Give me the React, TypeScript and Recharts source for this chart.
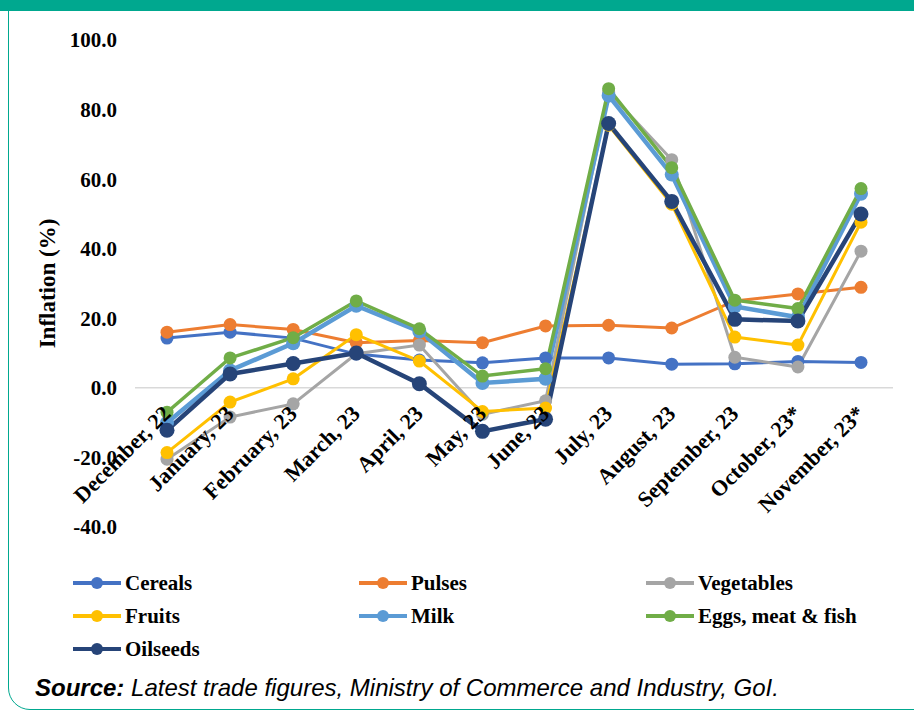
import React from "react";
import {
  LineChart,
  Line,
  XAxis,
  YAxis,
  ReferenceLine,
} from "recharts";

const months = [
  "December, 22",
  "January, 23",
  "February, 23",
  "March, 23",
  "April, 23",
  "May, 23",
  "June, 23",
  "July, 23",
  "August, 23",
  "September, 23",
  "October, 23*",
  "November, 23*",
];

const cereals = [14.3, 16.0, 14.3, 9.7, 8.0, 7.2, 8.6, 8.6, 6.8, 6.9, 7.6, 7.3];
const pulses = [16.0, 18.2, 16.8, 13.0, 13.6, 13.0, 17.8, 18.0, 17.2, 25.0, 27.0, 28.9];
const vegetables = [-20.5, -8.4, -4.6, 9.8, 12.3, -7.6, -3.7, 85.0, 65.6, 8.8, 6.0, 39.3];
const fruits = [-18.6, -4.1, 2.6, 15.3, 7.7, -6.8, -5.8, 75.5, 52.8, 14.6, 12.3, 47.6];
const milk = [-10.0, 5.0, 12.8, 23.6, 16.2, 1.4, 2.6, 84.0, 61.3, 23.4, 20.3, 55.8];
const eggs = [-7.0, 8.6, 14.4, 25.0, 17.0, 3.4, 5.5, 86.0, 63.3, 25.2, 22.8, 57.3];
const oilseeds = [-12.2, 4.0, 7.0, 10.0, 1.2, -12.5, -9.0, 76.0, 53.6, 19.7, 19.2, 50.0];

const yTicks = [-40, -20, 0, 20, 40, 60, 80, 100];

const series = [
  { key: "cereals", name: "Cereals", values: cereals, color: "#4472C4", width: 3, r: 6.5 },
  { key: "pulses", name: "Pulses", values: pulses, color: "#ED7D31", width: 3, r: 6.5 },
  { key: "vegetables", name: "Vegetables", values: vegetables, color: "#A5A5A5", width: 3, r: 6.5 },
  { key: "fruits", name: "Fruits", values: fruits, color: "#FFC000", width: 3, r: 6.5 },
  { key: "milk", name: "Milk", values: milk, color: "#5B9BD5", width: 4.5, r: 7 },
  { key: "eggs", name: "Eggs, meat & fish", values: eggs, color: "#70AD47", width: 3.5, r: 6.5 },
  { key: "oilseeds", name: "Oilseeds", values: oilseeds, color: "#264478", width: 4.5, r: 7.5 },
];

const data = months.map((m, i) => {
  const row: Record<string, string | number> = { month: m };
  series.forEach((s) => {
    row[s.key] = s.values[i];
  });
  return row;
});

const W = 914;
const H = 714;
const TOP = 40;
const BOTTOM = 527;
const X_AXIS_H = 30;
const Y_MIN = -40;
const Y_MAX = 100;
const zeroY = TOP + ((Y_MAX - 0) / (Y_MAX - Y_MIN)) * (BOTTOM - TOP);

const serif = "'Liberation Serif', 'Times New Roman', serif";
const teal = "#00A88F";

// month labels hang off the zero line, not the bottom of the plot
function MonthTick(props: any) {
  const { x, payload } = props;
  const ax = x + 5;
  const ay = zeroY + 27;
  return (
    <text
      x={ax}
      y={ay}
      textAnchor="end"
      transform={`rotate(-45, ${ax}, ${ay})`}
      fontFamily={serif}
      fontWeight="bold"
      fontSize={22}
      fill="#000"
    >
      {payload.value}
    </text>
  );
}

function LegendBox() {
  const cols = [72, 358, 645];
  return (
    <div style={{ position: "absolute", left: 0, top: 0 }}>
      {series.map((s, i) => {
        const left = cols[i % 3];
        const top = 583 + Math.floor(i / 3) * 33;
        return (
          <div
            key={s.key}
            style={{
              position: "absolute",
              left,
              top: top - 14,
              height: 28,
              display: "flex",
              alignItems: "center",
              whiteSpace: "nowrap",
            }}
          >
            <svg width={50} height={28}>
              <line x1={1} y1={14} x2={49} y2={14} stroke={s.color} strokeWidth={4} />
              <circle cx={25} cy={14} r={6} fill={s.color} />
            </svg>
            <span
              style={{
                fontFamily: serif,
                fontWeight: "bold",
                fontSize: 21,
                marginLeft: 3,
                color: "#000",
              }}
            >
              {s.name}
            </span>
          </div>
        );
      })}
    </div>
  );
}

export default function App() {
  return (
    <div
      style={{
        position: "absolute",
        left: 0,
        top: 0,
        width: W,
        height: H,
        overflow: "hidden",
        background: "#fff",
      }}
    >
      <div
        style={{
          position: "absolute",
          left: 8,
          top: -30,
          width: W + 20,
          height: H + 30 - 4,
          border: `1.5px solid ${teal}`,
          borderRadius: 22,
          boxSizing: "border-box",
        }}
      />
      <div
        style={{
          position: "absolute",
          left: 0,
          top: 0,
          width: W,
          height: 11,
          background: teal,
        }}
      />
      <div style={{ position: "absolute", left: 0, top: 0 }}>
        <LineChart
          width={W}
          height={H}
          data={data}
          margin={{ top: TOP, right: 21, bottom: H - BOTTOM - X_AXIS_H, left: 47 }}
        >
          <ReferenceLine y={0} stroke="#D9D9D9" strokeWidth={1.5} />
          <XAxis
            dataKey="month"
            axisLine={false}
            tickLine={false}
            interval={0}
            height={X_AXIS_H}
            padding={{ left: 32, right: 32 }}
            tick={<MonthTick />}
          />
          <YAxis
            width={88}
            domain={[Y_MIN, Y_MAX]}
            ticks={yTicks}
            axisLine={false}
            tickLine={false}
            tickMargin={12}
            tickFormatter={(v: number) => v.toFixed(1)}
            tick={{ fontFamily: serif, fontWeight: "bold", fontSize: 21, fill: "#000" }}
            label={{
              value: "Inflation (%)",
              angle: -90,
              position: "insideLeft",
              offset: 0,
              style: {
                textAnchor: "middle",
                fontFamily: serif,
                fontWeight: "bold",
                fontSize: 23,
                fill: "#000",
              },
            }}
          />
          {series.map((s) => (
            <Line
              key={s.key}
              dataKey={s.key}
              name={s.name}
              type="linear"
              stroke={s.color}
              strokeWidth={s.width}
              dot={{ r: s.r, fill: s.color, stroke: s.color, strokeWidth: 0 }}
              activeDot={false}
              isAnimationActive={false}
            />
          ))}
        </LineChart>
      </div>
      <LegendBox />
      <div
        style={{
          position: "absolute",
          left: 35,
          top: 674,
          fontFamily: "'Liberation Sans Narrow', 'Liberation Sans', sans-serif",
          fontStyle: "italic",
          fontSize: 24,
          color: "#000",
          whiteSpace: "nowrap",
        }}
      >
        <b>Source:</b> Latest trade figures, Ministry of Commerce and Industry, GoI.
      </div>
    </div>
  );
}
